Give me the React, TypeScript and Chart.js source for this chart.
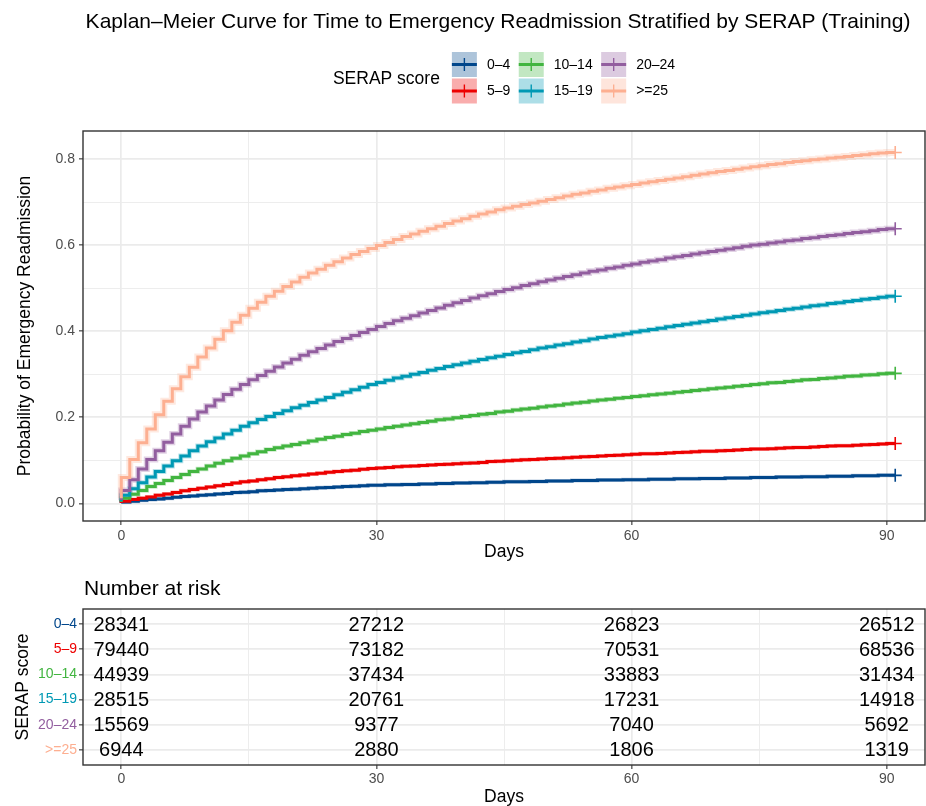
import React, { useEffect, useRef } from "react";
import { Chart, registerables } from "chart.js";

Chart.register(...registerables);

const FONT = "'Liberation Sans', Arial, Helvetica, sans-serif";

const TITLE = "Kaplan–Meier Curve for Time to Emergency Readmission Stratified by SERAP (Training)";
const LEGEND_TITLE = "SERAP score";
const Y_TITLE = "Probability of Emergency Readmission";
const X_TITLE = "Days";
const RISK_TITLE = "Number at risk";
const RISK_Y_TITLE = "SERAP score";

const GROUPS = ["0–4", "5–9", "10–14", "15–19", "20–24", ">=25"];
const COLORS = ["#00468B", "#ED0000", "#42B540", "#0099B4", "#925E9F", "#FDAF91"];

const DAYS = [
  0, 1, 2, 3, 4, 5, 6, 7, 8, 9, 10, 11, 12, 13, 14, 15, 16, 17, 18, 19, 20, 21, 22, 23, 24, 25, 26, 27, 28, 29,
  30, 31, 32, 33, 34, 35, 36, 37, 38, 39, 40, 41, 42, 43, 44, 45, 46, 47, 48, 49, 50, 51, 52, 53, 54, 55, 56, 57, 58, 59,
  60, 61, 62, 63, 64, 65, 66, 67, 68, 69, 70, 71, 72, 73, 74, 75, 76, 77, 78, 79, 80, 81, 82, 83, 84, 85, 86, 87, 88, 89,
  90, 91,
];

const KM_0_4 = [
  0.001, 0.003, 0.005, 0.007, 0.009, 0.010, 0.012, 0.014, 0.016, 0.017,
  0.019, 0.020, 0.022, 0.023, 0.025, 0.026, 0.027, 0.029, 0.030, 0.031,
  0.032, 0.033, 0.034, 0.035, 0.036, 0.037, 0.038, 0.039, 0.040, 0.041,
  0.042, 0.042, 0.043, 0.043, 0.044, 0.044, 0.045, 0.045, 0.046, 0.046,
  0.047, 0.047, 0.048, 0.048, 0.049, 0.049, 0.050, 0.050, 0.050, 0.051,
  0.051, 0.052, 0.052, 0.052, 0.053, 0.053, 0.053, 0.054, 0.054, 0.054,
  0.055, 0.055, 0.055, 0.056, 0.056, 0.056, 0.057, 0.057, 0.057, 0.058,
  0.058, 0.058, 0.059, 0.059, 0.059, 0.060, 0.060, 0.060, 0.061, 0.061,
  0.061, 0.062, 0.062, 0.062, 0.063, 0.063, 0.063, 0.064, 0.064, 0.064,
  0.065, 0.065,
];

const KM_5_9 = [
  0.001, 0.005, 0.009, 0.012, 0.015, 0.019, 0.022, 0.025, 0.029, 0.032,
  0.035, 0.038, 0.041, 0.044, 0.047, 0.050, 0.052, 0.055, 0.057, 0.060,
  0.062, 0.064, 0.066, 0.068, 0.070, 0.072, 0.074, 0.076, 0.077, 0.079,
  0.081, 0.082, 0.083, 0.085, 0.086, 0.087, 0.088, 0.089, 0.090, 0.091,
  0.092, 0.093, 0.094, 0.095, 0.097, 0.098, 0.099, 0.100, 0.101, 0.102,
  0.103, 0.104, 0.105, 0.106, 0.107, 0.108, 0.109, 0.110, 0.111, 0.112,
  0.113, 0.114, 0.115, 0.115, 0.116, 0.117, 0.118, 0.119, 0.120, 0.121,
  0.121, 0.122, 0.123, 0.124, 0.125, 0.126, 0.126, 0.127, 0.128, 0.129,
  0.130, 0.130, 0.131, 0.132, 0.133, 0.134, 0.134, 0.135, 0.136, 0.137,
  0.138, 0.139,
];

const KM_10_14 = [
  0.003, 0.012, 0.021, 0.030, 0.039, 0.046, 0.053, 0.060, 0.067, 0.074,
  0.080, 0.087, 0.093, 0.099, 0.105, 0.110, 0.115, 0.120, 0.125, 0.129,
  0.133, 0.137, 0.141, 0.145, 0.149, 0.153, 0.156, 0.160, 0.163, 0.167,
  0.170, 0.173, 0.176, 0.179, 0.182, 0.185, 0.188, 0.191, 0.194, 0.196,
  0.199, 0.202, 0.204, 0.207, 0.209, 0.212, 0.214, 0.217, 0.219, 0.221,
  0.224, 0.226, 0.228, 0.231, 0.233, 0.235, 0.238, 0.240, 0.242, 0.244,
  0.246, 0.248, 0.250, 0.252, 0.254, 0.256, 0.258, 0.260, 0.262, 0.264,
  0.266, 0.268, 0.270, 0.272, 0.274, 0.276, 0.278, 0.280, 0.281, 0.283,
  0.285, 0.287, 0.288, 0.290, 0.291, 0.293, 0.295, 0.296, 0.298, 0.299,
  0.301, 0.302,
];

const KM_15_19 = [
  0.005, 0.019, 0.034, 0.048, 0.061, 0.074, 0.087, 0.099, 0.110, 0.122,
  0.133, 0.143, 0.152, 0.161, 0.170, 0.179, 0.187, 0.195, 0.202, 0.209,
  0.215, 0.222, 0.228, 0.234, 0.240, 0.246, 0.252, 0.258, 0.264, 0.270,
  0.276, 0.281, 0.286, 0.291, 0.295, 0.300, 0.304, 0.309, 0.313, 0.318,
  0.322, 0.326, 0.330, 0.334, 0.338, 0.342, 0.346, 0.350, 0.353, 0.357,
  0.361, 0.364, 0.368, 0.371, 0.375, 0.378, 0.382, 0.385, 0.388, 0.391,
  0.394, 0.398, 0.401, 0.404, 0.407, 0.410, 0.413, 0.416, 0.419, 0.422,
  0.425, 0.428, 0.431, 0.434, 0.437, 0.440, 0.443, 0.445, 0.448, 0.451,
  0.453, 0.456, 0.459, 0.461, 0.464, 0.466, 0.469, 0.471, 0.474, 0.476,
  0.479, 0.481,
];

const KM_20_24 = [
  0.008, 0.030, 0.055, 0.080, 0.102, 0.122, 0.142, 0.161, 0.179, 0.196,
  0.212, 0.226, 0.240, 0.253, 0.265, 0.276, 0.287, 0.297, 0.307, 0.317,
  0.326, 0.335, 0.344, 0.352, 0.360, 0.368, 0.376, 0.383, 0.390, 0.397,
  0.404, 0.411, 0.418, 0.424, 0.430, 0.436, 0.442, 0.448, 0.454, 0.460,
  0.466, 0.471, 0.477, 0.482, 0.487, 0.492, 0.497, 0.501, 0.506, 0.510,
  0.515, 0.519, 0.523, 0.527, 0.531, 0.535, 0.539, 0.542, 0.546, 0.549,
  0.553, 0.556, 0.560, 0.563, 0.566, 0.570, 0.573, 0.576, 0.579, 0.582,
  0.585, 0.588, 0.591, 0.594, 0.597, 0.600, 0.602, 0.605, 0.607, 0.610,
  0.612, 0.615, 0.617, 0.620, 0.622, 0.624, 0.627, 0.629, 0.631, 0.633,
  0.636, 0.638,
];

const KM_GE25 = [
  0.012, 0.060, 0.102, 0.141, 0.173, 0.206, 0.237, 0.266, 0.294, 0.316,
  0.340, 0.361, 0.381, 0.401, 0.421, 0.437, 0.453, 0.467, 0.481, 0.493,
  0.504, 0.514, 0.525, 0.535, 0.544, 0.553, 0.561, 0.570, 0.578, 0.585,
  0.592, 0.599, 0.606, 0.613, 0.620, 0.626, 0.632, 0.638, 0.644, 0.650,
  0.656, 0.661, 0.667, 0.672, 0.677, 0.682, 0.686, 0.690, 0.694, 0.698,
  0.702, 0.706, 0.710, 0.714, 0.718, 0.721, 0.725, 0.728, 0.732, 0.735,
  0.738, 0.741, 0.744, 0.747, 0.750, 0.753, 0.756, 0.759, 0.762, 0.765,
  0.768, 0.771, 0.773, 0.776, 0.779, 0.782, 0.784, 0.787, 0.789, 0.792,
  0.794, 0.796, 0.798, 0.800, 0.802, 0.804, 0.806, 0.808, 0.810, 0.812,
  0.814, 0.815,
];

const X_TICKS = [0, 15, 30, 45, 60, 75, 90];
const X_LABELED = [0, 30, 60, 90];
const Y_TICKS = [0, 0.1, 0.2, 0.3, 0.4, 0.5, 0.6, 0.7, 0.8];

const RISK_TIMES = [0, 30, 60, 90];
const RISK_0_4 = [28341, 27212, 26823, 26512];
const RISK_5_9 = [79440, 73182, 70531, 68536];
const RISK_10_14 = [44939, 37434, 33883, 31434];
const RISK_15_19 = [28515, 20761, 17231, 14918];
const RISK_20_24 = [15569, 9377, 7040, 5692];
const RISK_GE25 = [6944, 2880, 1806, 1319];

const KM_SERIES = [KM_0_4, KM_5_9, KM_10_14, KM_15_19, KM_20_24, KM_GE25];
const RISK_SERIES = [RISK_0_4, RISK_5_9, RISK_10_14, RISK_15_19, RISK_20_24, RISK_GE25];
const BAND_WIDTHS = [4, 4, 4.5, 5, 6, 7];

const GRID = "#EBEBEB";
const DARK = "#333333";
const TICK_TEXT = "#4D4D4D";

function withAlpha(hex: string, a: number) {
  const n = parseInt(hex.slice(1), 16);
  return `rgba(${(n >> 16) & 255}, ${(n >> 8) & 255}, ${n & 255}, ${a})`;
}

const isMajorX = (v: number) => Math.abs(v % 30) < 1e-9;
const isMajorY = (v: number) => Math.round(v * 10) % 2 === 0;

const panelBorder = {
  id: "panelBorder",
  afterDatasetsDraw(chart: any) {
    const { ctx, chartArea: a } = chart;
    ctx.save();
    ctx.strokeStyle = DARK;
    ctx.lineWidth = 1.4;
    ctx.strokeRect(a.left, a.top, a.right - a.left, a.bottom - a.top);
    ctx.restore();
  },
};

const titleLegend = {
  id: "titleLegend",
  afterDraw(chart: any) {
    const { ctx, chartArea: a } = chart;
    ctx.save();
    ctx.fillStyle = "#000";
    ctx.textBaseline = "middle";
    ctx.textAlign = "center";
    ctx.font = `21px ${FONT}`;
    ctx.fillText(TITLE, 498, 22);

    const keySize = 25;
    const keyGap = 10;
    const colGap = 8.5;
    const titleGap = 12;
    const rows = 2;
    const rowTops = [52, 78.5];
    const cols = Math.ceil(GROUPS.length / rows);
    ctx.font = `14px ${FONT}`;
    const colTextW: number[] = [];
    for (let c = 0; c < cols; c++) {
      let w = 0;
      for (let r = 0; r < rows; r++) {
        const i = c * rows + r;
        if (i < GROUPS.length) w = Math.max(w, ctx.measureText(GROUPS[i]).width);
      }
      colTextW.push(w);
    }
    ctx.font = `17.5px ${FONT}`;
    const titleW = ctx.measureText(LEGEND_TITLE).width;
    let total = titleW + titleGap;
    colTextW.forEach((w, c) => {
      total += keySize + keyGap + w + (c < cols - 1 ? colGap : 0);
    });
    let x = (a.left + a.right) / 2 - total / 2;
    ctx.textAlign = "left";
    ctx.fillText(LEGEND_TITLE, x, (rowTops[0] + rowTops[rows - 1] + keySize) / 2 + 1);
    x += titleW + titleGap;
    ctx.font = `14px ${FONT}`;
    for (let c = 0; c < cols; c++) {
      for (let r = 0; r < rows; r++) {
        const i = c * rows + r;
        if (i >= GROUPS.length) continue;
        const top = rowTops[r];
        const cy = top + keySize / 2;
        ctx.fillStyle = withAlpha(COLORS[i], 0.32);
        ctx.fillRect(x, top, keySize, keySize);
        ctx.strokeStyle = COLORS[i];
        ctx.lineWidth = 3;
        ctx.beginPath();
        ctx.moveTo(x, cy);
        ctx.lineTo(x + keySize, cy);
        ctx.stroke();
        ctx.lineWidth = 1.4;
        ctx.beginPath();
        ctx.moveTo(x + keySize / 2, cy - 6.5);
        ctx.lineTo(x + keySize / 2, cy + 6.5);
        ctx.stroke();
        ctx.fillStyle = "#000";
        ctx.fillText(GROUPS[i], x + keySize + keyGap, cy + 0.5);
      }
      x += keySize + keyGap + colTextW[c] + colGap;
    }
    ctx.restore();
  },
};

const riskText = {
  id: "riskText",
  afterDatasetsDraw(chart: any) {
    const { ctx } = chart;
    ctx.save();
    ctx.font = `20px ${FONT}`;
    ctx.fillStyle = "#000";
    ctx.textAlign = "center";
    ctx.textBaseline = "middle";
    chart.data.datasets.forEach((ds: any, i: number) => {
      const meta = chart.getDatasetMeta(i);
      meta.data.forEach((el: any, j: number) => {
        ctx.fillText(String(ds.data[j].n), el.x, el.y + 1);
      });
    });
    ctx.font = `21px ${FONT}`;
    ctx.textAlign = "left";
    ctx.fillText(RISK_TITLE, chart.chartArea.left + 1, 24);
    ctx.restore();
  },
};

function xScale(height: number, titlePadBottom: number, tickPad: number) {
  return {
    type: "linear" as const,
    min: -4.5,
    max: 94.5,
    afterBuildTicks: (s: any) => {
      s.ticks = X_TICKS.map((v) => ({ value: v }));
    },
    afterFit: (s: any) => {
      s.height = height;
    },
    ticks: {
      autoSkip: false,
      maxRotation: 0,
      padding: tickPad,
      color: TICK_TEXT,
      font: { family: FONT, size: 14 },
      callback: (v: any) => (X_LABELED.includes(Number(v)) ? String(v) : ""),
    },
    grid: {
      color: GRID,
      lineWidth: (ctx: any) => (isMajorX(ctx.tick ? ctx.tick.value : 0) ? 1.7 : 0.9),
      tickLength: 4,
      tickWidth: 1.1,
      tickColor: (ctx: any) => (isMajorX(ctx.tick ? ctx.tick.value : 0) ? DARK : "rgba(0,0,0,0)"),
    },
    border: { display: false },
    title: {
      display: true,
      text: X_TITLE,
      color: "#000",
      font: { family: FONT, size: 17.5, lineHeight: 1 },
      padding: { top: 0, bottom: titlePadBottom },
    },
  };
}

function mainConfig(): any {
  const datasets: any[] = [];
  KM_SERIES.forEach((vals, i) => {
    datasets.push({
      label: GROUPS[i] + " band",
      data: DAYS.map((d, j) => ({ x: d, y: vals[j] })),
      borderColor: withAlpha(COLORS[i], 0.28),
      borderWidth: BAND_WIDTHS[i],
      stepped: "after",
      pointRadius: 0,
      fill: false,
      order: 20 + (KM_SERIES.length - i),
    });
  });
  KM_SERIES.forEach((vals, i) => {
    const last = vals.length - 1;
    datasets.push({
      label: GROUPS[i],
      data: DAYS.map((d, j) => ({ x: d, y: vals[j] })),
      borderColor: COLORS[i],
      backgroundColor: COLORS[i],
      borderWidth: 3,
      stepped: "after",
      fill: false,
      pointStyle: "cross",
      pointRadius: (ctx: any) => (ctx.dataIndex === last ? 6.5 : 0),
      pointBorderWidth: 1.6,
      pointBorderColor: COLORS[i],
      order: KM_SERIES.length - i,
    });
  });
  return {
    type: "line",
    data: { datasets },
    options: {
      animation: false,
      responsive: false,
      maintainAspectRatio: false,
      events: [],
      layout: { autoPadding: false, padding: { top: 131, right: 1, left: 0, bottom: 0 } },
      plugins: { legend: { display: false }, tooltip: { enabled: false }, title: { display: false } },
      scales: {
        x: xScale(44, 4.25, 3),
        y: {
          type: "linear",
          min: -0.041,
          max: 0.865,
          afterBuildTicks: (s: any) => {
            s.ticks = Y_TICKS.map((v) => ({ value: v }));
          },
          afterFit: (s: any) => {
            s.width = 83;
          },
          ticks: {
            padding: 4,
            color: TICK_TEXT,
            font: { family: FONT, size: 14 },
            callback: (v: any) => (isMajorY(Number(v)) ? Number(v).toFixed(1) : ""),
          },
          grid: {
            color: GRID,
            lineWidth: (ctx: any) => (isMajorY(ctx.tick ? ctx.tick.value : 0) ? 1.7 : 0.9),
            tickLength: 4,
            tickWidth: 1.1,
            tickColor: (ctx: any) => (isMajorY(ctx.tick ? ctx.tick.value : 0) ? DARK : "rgba(0,0,0,0)"),
          },
          border: { display: false },
          title: {
            display: true,
            text: Y_TITLE,
            color: "#000",
            font: { family: FONT, size: 17.5, lineHeight: 1 },
            padding: { top: 16.25, bottom: 0 },
          },
        },
      },
    },
    plugins: [panelBorder, titleLegend],
  };
}

function riskConfig(): any {
  const n = GROUPS.length;
  const datasets = RISK_SERIES.map((vals, i) => ({
    label: GROUPS[i],
    data: RISK_TIMES.map((t, j) => ({ x: t, y: n - i, n: vals[j] })),
    pointRadius: 0,
    showLine: false,
  }));
  return {
    type: "scatter",
    data: { datasets },
    options: {
      animation: false,
      responsive: false,
      maintainAspectRatio: false,
      events: [],
      layout: { autoPadding: false, padding: { top: 44, right: 1, left: 0, bottom: 0 } },
      plugins: { legend: { display: false }, tooltip: { enabled: false }, title: { display: false } },
      scales: {
        x: xScale(41, 0.25, 2),
        y: {
          type: "linear",
          min: 0.4,
          max: n + 0.6,
          afterBuildTicks: (s: any) => {
            s.ticks = GROUPS.map((_, i) => ({ value: n - i }));
          },
          afterFit: (s: any) => {
            s.width = 83;
          },
          ticks: {
            padding: 2,
            font: { family: FONT, size: 14 },
            color: (ctx: any) => COLORS[n - (ctx.tick ? ctx.tick.value : n)] || TICK_TEXT,
            callback: (v: any) => GROUPS[n - Number(v)] || "",
          },
          grid: {
            color: GRID,
            lineWidth: 1.7,
            tickLength: 4,
            tickWidth: 1.1,
            tickColor: DARK,
          },
          border: { display: false },
          title: {
            display: true,
            text: RISK_Y_TITLE,
            color: "#000",
            font: { family: FONT, size: 17.5, lineHeight: 1 },
            padding: { top: 14, bottom: 0 },
          },
        },
      },
    },
    plugins: [riskText, panelBorder],
  };
}

export default function App() {
  const mainRef = useRef<HTMLCanvasElement>(null);
  const riskRef = useRef<HTMLCanvasElement>(null);

  useEffect(() => {
    const c1 = new Chart(mainRef.current as HTMLCanvasElement, mainConfig());
    const c2 = new Chart(riskRef.current as HTMLCanvasElement, riskConfig());
    return () => {
      c1.destroy();
      c2.destroy();
    };
  }, []);

  return (
    <div style={{ position: "absolute", left: 0, top: 0, width: 926, height: 806, background: "#ffffff" }}>
      <canvas
        ref={mainRef}
        width={926}
        height={565}
        style={{ position: "absolute", left: 0, top: 0, width: 926, height: 565 }}
      />
      <canvas
        ref={riskRef}
        width={926}
        height={241}
        style={{ position: "absolute", left: 0, top: 565, width: 926, height: 241 }}
      />
    </div>
  );
}
